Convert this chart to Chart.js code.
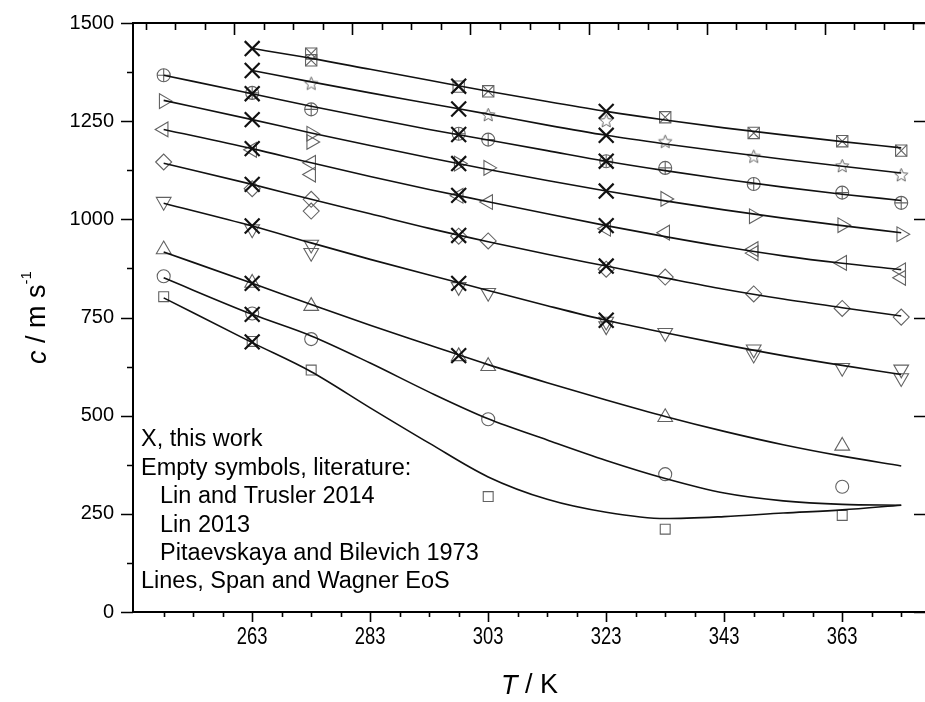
<!DOCTYPE html>
<html>
<head>
<meta charset="utf-8">
<script src="https://cdn.jsdelivr.net/npm/chart.js@4.4.1/dist/chart.umd.min.js"></script>
<style>
html, body { margin: 0; padding: 0; background: #fff; overflow: hidden; }
canvas { display: block; }
</style>
</head>
<body>
<canvas id="sos" width="927" height="702" style="width:927px;height:702px"></canvas>
<script>
// speed of sound in CO2, isobars listed from top to bottom

// this work (X symbols)
const tWork = [263, 298, 323];
const cWork = [
  [1435, 1339, 1275],
  [1379, 1281, 1214],
  [1320, 1216, 1148],
  [1254, 1142, 1072],
  [1180, 1061, 984],
  [1089, 959, 881],
  [983, 837, 743],
  [837, 653, null],
  [758, null, null],
  [688, null, null]
];

// literature points (open symbols), second table holds repeats at the same T
const tLit = [248, 263, 273, 298, 303, 323, 333, 348, 363, 373];
const cLit = [
  [null, null, 1422, 1338, 1326, null, 1260, 1220, 1199, 1175],
  [null, null, 1347, null, 1267, 1252, 1199, 1161, 1137, 1114],
  [1367, 1322, 1280, 1218, 1203, 1148, 1131, 1090, 1068, 1042],
  [1301, null, 1218, 1142, 1131, null, 1052, 1008, 985, 962],
  [1229, 1177, 1144, 1060, 1044, 976, 966, 924, 889, 870],
  [1146, 1078, 1051, 957, 945, 873, 853, 810, 773, 751],
  [1045, 975, 936, 828, 813, 740, 711, 669, 622, 618],
  [923, 838, 779, 651, 626, null, 496, null, 423, null],
  [855, 760, 695, null, 491, null, 351, null, 319, null],
  [803, 689, 616, null, 294, null, 211, null, 246, null]
];
const cLitRepeat = [
  [null, null, 1405, null, null, null, null, null, null, null],
  [null, null, null, null, null, null, null, null, null, null],
  [null, null, null, null, null, null, null, null, null, null],
  [null, null, 1197, null, null, null, null, null, null, null],
  [null, null, 1114, null, null, null, null, 914, null, 851],
  [null, null, 1021, null, null, null, null, null, null, null],
  [null, null, 915, null, null, 728, null, 656, null, 596],
  [null, null, null, null, null, null, null, null, null, null],
  [null, null, null, null, null, null, null, null, null, null],
  [null, null, null, null, null, null, null, null, null, null]
];

// Span and Wagner EoS curves
const tEos = [248, 263, 273, 283, 293, 303, 313, 323, 333, 343, 353, 363, 373];
const cEos = [
  [null, 1435, 1410, 1382, 1354, 1326, 1300, 1275, 1253, 1233, 1215, 1198, 1182],
  [null, 1379, 1350, 1322, 1295, 1268, 1240, 1214, 1192, 1172, 1153, 1135, 1118],
  [1367, 1320, 1288, 1258, 1229, 1202, 1175, 1148, 1124, 1102, 1082, 1064, 1048],
  [1303, 1254, 1220, 1188, 1157, 1127, 1099, 1072, 1047, 1024, 1003, 984, 966],
  [1229, 1180, 1144, 1109, 1076, 1045, 1014, 984, 956, 930, 907, 888, 872],
  [1143, 1089, 1051, 1014, 977, 943, 911, 881, 851, 822, 797, 775, 754],
  [1041, 983, 940, 898, 858, 819, 780, 743, 711, 681, 653, 628, 605],
  [917, 837, 783, 730, 680, 630, 584, 540, 498, 460, 426, 397, 372],
  [851, 758, 703, 634, 560, 492, 438, 386, 340, 303, 283, 274, 272],
  [800, 686, 612, 520, 430, 344, 287, 254, 238, 243, 252, 260, 272]
];

const xTicks = [263, 283, 303, 323, 343, 363];
const yTicks = [0, 250, 500, 750, 1000, 1250, 1500];

const noteLines = ['X, this work', 'Empty symbols, literature:', 'Lin and Trusler 2014',
  'Lin 2013', 'Pitaevskaya and Bilevich 1973', 'Lines, Span and Wagner EoS'];
const noteIndent = [0, 0, 1, 1, 1, 0];

const GREY = '#626262';
const FONT = "'Liberation Sans', Arial, sans-serif";

function starPoint(r, color) {
  const s = Math.ceil(r * 2 + 3);
  const c = document.createElement('canvas');
  c.width = s; c.height = s;
  const g = c.getContext('2d');
  g.strokeStyle = color;
  g.lineWidth = 1;
  g.beginPath();
  for (let k = 0; k < 10; k++) {
    const rr = k % 2 ? r * 0.45 : r;
    const a = -Math.PI / 2 + k * Math.PI / 5;
    const px = s / 2 + rr * Math.cos(a), py = s / 2 + 0.8 + rr * Math.sin(a);
    if (k) g.lineTo(px, py); else g.moveTo(px, py);
  }
  g.closePath();
  g.stroke();
  return c;
}

// symbol for each isobar
const symbols = [
  { style: 'rect', r: 8, overlay: 'crossRot' },
  { style: starPoint(7, GREY), r: 7 },
  { style: 'circle', r: 6.5, overlay: 'cross' },
  { style: 'triangle', r: 8.5, rot: 90 },
  { style: 'triangle', r: 8.5, rot: 270 },
  { style: 'rectRot', r: 8 },
  { style: 'triangle', r: 8.5, rot: 180 },
  { style: 'triangle', r: 8.5, rot: 0 },
  { style: 'circle', r: 6.5 },
  { style: 'rect', r: 7 }
];

function pairs(ts, row) {
  return ts.map((t, i) => ({ x: t, y: row[i] })).filter(p => p.y !== null);
}

const datasets = [];

// X marks on top
datasets.push({
  label: 'this work',
  data: cWork.flatMap(row => pairs(tWork, row)),
  showLine: false,
  pointStyle: 'crossRot',
  pointRadius: 10.5,
  pointBorderWidth: 2.2,
  pointBorderColor: '#111',
  pointBackgroundColor: 'transparent'
});

cEos.forEach((row, i) => {
  datasets.push({
    label: 'EoS ' + (i + 1),
    data: pairs(tEos, row),
    showLine: true,
    borderColor: '#111',
    borderWidth: 1.6,
    pointRadius: 0,
    cubicInterpolationMode: 'monotone'
  });
});

cLit.forEach((row, i) => {
  const sym = symbols[i];
  const pts = pairs(tLit, row).concat(pairs(tLit, cLitRepeat[i]));
  datasets.push({
    label: 'literature ' + (i + 1),
    data: pts,
    showLine: false,
    pointStyle: sym.style,
    pointRadius: sym.r,
    pointRotation: sym.rot || 0,
    pointBorderWidth: 1.1,
    pointBorderColor: GREY,
    pointBackgroundColor: 'transparent'
  });
  if (sym.overlay) {
    datasets.push({
      label: 'literature ' + (i + 1) + ' mark',
      data: pts,
      showLine: false,
      pointStyle: sym.overlay,
      pointRadius: sym.r,
      pointBorderWidth: 1.1,
      pointBorderColor: GREY,
      pointBackgroundColor: 'transparent'
    });
  }
});

function noPadding(s) {
  s.paddingLeft = 0; s.paddingRight = 0; s.paddingTop = 0; s.paddingBottom = 0;
}

// frame, tick marks, x labels (condensed), axis titles and the note block
const framePlugin = {
  id: 'frame',
  afterDraw(chart) {
    const { ctx, chartArea: a, scales: { x, y } } = chart;
    ctx.save();
    ctx.strokeStyle = '#000';
    ctx.lineWidth = 2;
    ctx.strokeRect(a.left, a.top, a.right - a.left, a.bottom - a.top);

    ctx.lineWidth = 1.6;
    ctx.beginPath();
    // bottom, outward
    for (let t = 248; t <= 375; t += 5) {
      const px = Math.round(x.getPixelForValue(t)) + 0.5;
      const len = xTicks.includes(t) ? 10 : 5;
      ctx.moveTo(px, a.bottom); ctx.lineTo(px, a.bottom + len);
    }
    // top, inward
    for (let t = 245; t <= 375; t += 5) {
      const px = Math.round(x.getPixelForValue(t)) + 0.5;
      const len = t % 20 === 0 ? 12 : 7;
      ctx.moveTo(px, a.top); ctx.lineTo(px, a.top + len);
    }
    // left outward, right inward
    for (let v = 0; v <= 1500; v += 125) {
      const py = Math.round(y.getPixelForValue(v)) + 0.5;
      const major = v % 250 === 0;
      ctx.moveTo(a.left, py); ctx.lineTo(a.left - (major ? 12 : 6), py);
      if (major) { ctx.moveTo(a.right, py); ctx.lineTo(a.right - 12, py); }
    }
    ctx.stroke();

    ctx.fillStyle = '#000';
    ctx.textBaseline = 'middle';
    ctx.textAlign = 'center';

    // x tick labels, narrow face
    ctx.font = '23px ' + FONT;
    xTicks.forEach(t => {
      ctx.save();
      ctx.translate(x.getPixelForValue(t), 638);
      ctx.scale(0.8, 1);
      ctx.fillText(String(t), 0, 0);
      ctx.restore();
    });

    // x title: T / K
    ctx.textAlign = 'left';
    const xt = [['italic 27px ' + FONT, 'T'], ['27px ' + FONT, ' / K']];
    let w = 0;
    xt.forEach(p => { ctx.font = p[0]; w += ctx.measureText(p[1]).width; });
    let cx = (a.left + a.right) / 2 - w / 2;
    xt.forEach(p => { ctx.font = p[0]; ctx.fillText(p[1], cx, 686); cx += ctx.measureText(p[1]).width; });

    // y title: c / m s-1
    ctx.translate(38, (a.top + a.bottom) / 2);
    ctx.rotate(-Math.PI / 2);
    const yt = [['italic 27px ' + FONT, 'c', 0], ['27px ' + FONT, ' / m s', 0], ['15px ' + FONT, '-1', -11]];
    w = 0;
    yt.forEach(p => { ctx.font = p[0]; w += ctx.measureText(p[1]).width; });
    cx = -w / 2;
    yt.forEach(p => { ctx.font = p[0]; ctx.fillText(p[1], cx, p[2]); cx += ctx.measureText(p[1]).width; });
    ctx.setTransform(1, 0, 0, 1, 0, 0);

    // note block
    ctx.font = '23.5px ' + FONT;
    noteLines.forEach((s, i) => {
      ctx.fillText(s, a.left + 8 + noteIndent[i] * 19, 440 + i * 28.4);
    });
    ctx.restore();
  }
};

new Chart(document.getElementById('sos'), {
  type: 'scatter',
  data: { datasets },
  options: {
    responsive: false,
    animation: false,
    devicePixelRatio: 1,
    layout: { autoPadding: false, padding: { top: 23, right: 1, left: 0, bottom: 0 } },
    plugins: { legend: { display: false }, tooltip: { enabled: false } },
    scales: {
      x: {
        type: 'linear',
        min: 242.8,
        max: 377.2,
        afterBuildTicks: s => { s.ticks = xTicks.map(v => ({ value: v })); },
        afterFit: s => { s.height = 90; noPadding(s); },
        grid: { display: false, drawTicks: false },
        border: { display: false },
        ticks: { display: false }
      },
      y: {
        type: 'linear',
        min: 0,
        max: 1500,
        afterBuildTicks: s => { s.ticks = yTicks.map(v => ({ value: v })); },
        afterFit: s => { s.width = 133; noPadding(s); },
        grid: { display: false, drawTicks: false },
        border: { display: false },
        ticks: { color: '#000', font: { family: FONT, size: 20 }, padding: 19, callback: v => String(v) }
      }
    }
  },
  plugins: [framePlugin]
});
</script>
</body>
</html>
